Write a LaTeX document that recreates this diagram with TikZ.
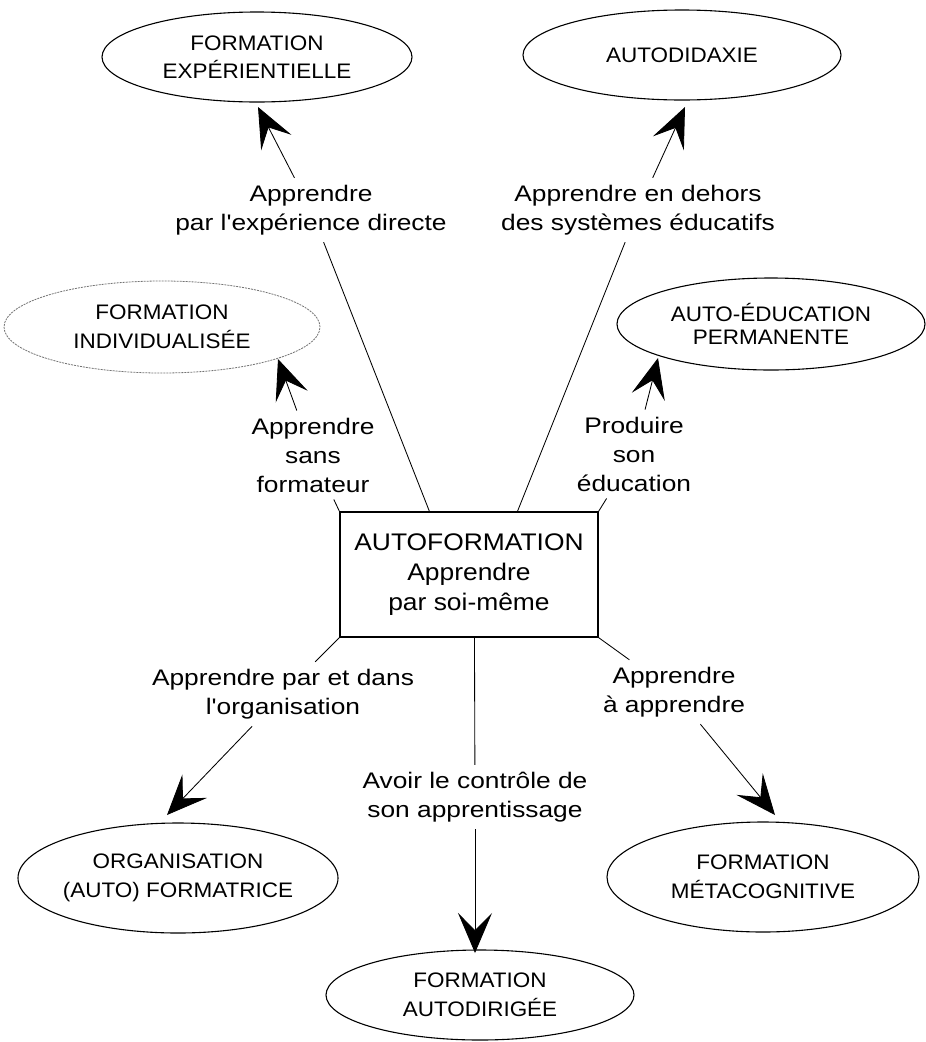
\documentclass[tikz,border=0pt]{standalone}
\usepackage{fontspec}
\newfontfamily\lblfont{Liberation Sans}[FakeStretch=1.17,Ligatures=TeXOff]
\newfontfamily\boxfont{Liberation Sans}[FakeStretch=1.1,Ligatures=TeXOff]
\newfontfamily\ellfont{Liberation Sans}[FakeStretch=1.07,Ligatures=TeXOff]
\usetikzlibrary{arrows.meta,shapes.geometric}

\begin{document}
\begin{tikzpicture}[x=1pt,y=-1pt,
  oval/.style={draw, ellipse, line width=1.1pt, inner sep=0pt, outer sep=0pt, align=center,
    font=\ellfont\fontsize{21pt}{28.5pt}\selectfont},
  tightoval/.style={oval, font=\ellfont\fontsize{21pt}{23pt}\selectfont},
  faint/.style={draw=black!55, line width=0.8pt, dash pattern=on 2pt off 1pt},
  centrebox/.style={draw, rectangle, line width=1.1pt, inner sep=0pt, align=center,
    font=\boxfont\fontsize{24pt}{30pt}\selectfont},
  lbl/.style={align=center, inner sep=7pt, font=\lblfont\fontsize{22.5pt}{29pt}\selectfont},
  link/.style={line width=0.85pt},
  arr/.style={link, -{Stealth[length=40pt,width=34pt,inset=17pt]}}]

\useasboundingbox[fill=white] (0,0) rectangle (926,1042);

% outer notions
\node[oval, minimum width=310pt, minimum height=90pt] (ellA) at (257,57) {FORMATION\\EXPÉRIENTIELLE};
\node[oval, minimum width=318pt, minimum height=90pt] (ellB) at (682,55) {AUTODIDAXIE};
\node[oval, faint, minimum width=316pt, minimum height=92pt] (ellC) at (162,327) {FORMATION\\INDIVIDUALISÉE};
\node[tightoval, minimum width=308pt, minimum height=92pt] (ellD) at (771,324) {AUTO-ÉDUCATION\\PERMANENTE};
\node[oval, minimum width=320pt, minimum height=110pt, inner xsep=-6pt] (ellE) at (178,878) {ORGANISATION\\(AUTO) FORMATRICE};
\node[oval, minimum width=312pt, minimum height=110pt] (ellF) at (763,877) {FORMATION\\MÉTACOGNITIVE};
\node[oval, minimum width=308pt, minimum height=90pt] (ellG) at (480,995) {FORMATION\\AUTODIRIGÉE};

% central notion
\node[centrebox, minimum width=258pt, minimum height=125pt] (box) at (469,574.5) {AUTOFORMATION\\Apprendre\\par soi-même};

% labels on the links
\node[lbl] (labA) at (311,210) {Apprendre\\par l'expérience directe};
\node[lbl] (labB) at (638,210) {Apprendre en dehors\\des systèmes éducatifs};
\node[lbl] (labC) at (313,455) {Apprendre\\sans\\formateur};
\node[lbl] (labD) at (634,454) {Produire\\son\\éducation};
\node[lbl] (labE) at (283,694) {Apprendre par et dans\\l'organisation};
\node[lbl] (labF) at (674,692) {Apprendre\\à apprendre};
\node[lbl] (labG) at (475,797) {Avoir le contrôle de\\son apprentissage};

% where the links leave the box
\coordinate (bA) at ([xshift=90pt]box.north west);
\coordinate (bB) at ([xshift=178pt]box.north west);
\coordinate (bG) at ([xshift=135pt]box.south west);

% arrow tips next to the ovals
\coordinate (tA) at ([shift={(1,50)}]ellA.center);
\coordinate (tB) at ([shift={(3,52)}]ellB.center);
\coordinate (tC) at ([shift={(116,32)}]ellC.center);
\coordinate (tD) at ([shift={(-113,34)}]ellD.center);
\coordinate (tE) at ([shift={(-11,-63)}]ellE.center);
\coordinate (tF) at ([shift={(12,-62)}]ellF.center);
\coordinate (tG) at ([shift={(-5,-42)}]ellG.center);

% links
\draw[link] (bA) -- (labA);
\draw[arr] (labA) -- (tA);
\draw[link] (bB) -- (labB);
\draw[arr] (labB) -- (tB);
\draw[link] (box.north west) -- (labC);
\draw[arr] (labC) -- (tC);
\draw[link] (box.north east) -- (labD);
\draw[arr] (labD) -- (tD);
\draw[link] (box.south west) -- (labE);
\draw[arr] (labE) -- (tE);
\draw[link] (box.south east) -- (labF);
\draw[arr] (labF) -- (tF);
\draw[link] (bG) -- (labG);
\draw[arr] (labG) -- (tG);
\end{tikzpicture}
\end{document}
